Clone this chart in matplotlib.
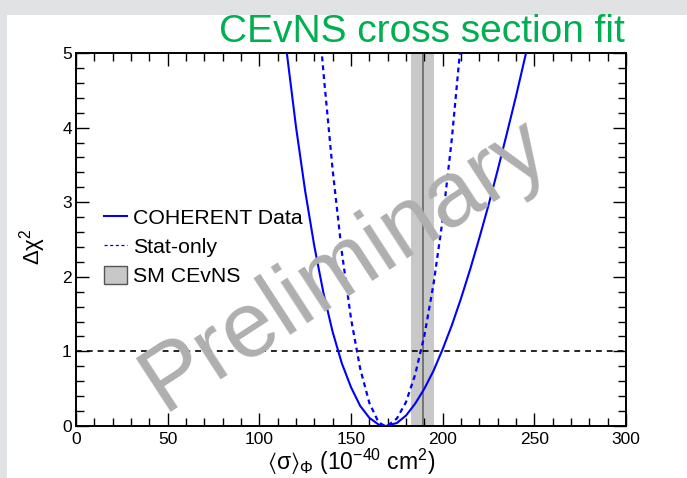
import matplotlib
matplotlib.use("Agg")
import matplotlib.pyplot as plt
from matplotlib.lines import Line2D
from matplotlib.patches import Patch, Rectangle
from matplotlib.ticker import MultipleLocator

plt.rcParams['font.family'] = ['Liberation Sans', 'DejaVu Sans']
plt.rcParams['mathtext.fontset'] = 'custom'
plt.rcParams['mathtext.rm'] = 'Liberation Sans'
plt.rcParams['mathtext.it'] = 'Liberation Sans:italic'
plt.rcParams['mathtext.sf'] = 'Liberation Sans'
plt.rcParams['mathtext.fallback'] = 'stixsans'

# Delta chi^2 profile of the full fit (stat + syst), flux-averaged cross section in 1e-40 cm^2
full_sigma = [115, 120, 125, 130, 135, 140, 145, 150, 155, 160, 165, 169,
              175, 180, 185, 190, 195, 200, 205, 210, 215, 220, 225, 230,
              235, 240, 245, 250]
full_dchi2 = [5.00, 4.01, 3.15, 2.41, 1.78, 1.26, 0.84, 0.52, 0.27, 0.11, 0.02, 0.00,
              0.04, 0.14, 0.30, 0.50, 0.74, 1.03, 1.35, 1.71, 2.10, 2.52, 2.96, 3.43,
              3.92, 4.42, 4.95, 5.49]

# Delta chi^2 profile with statistical uncertainties only
stat_sigma = [133, 135, 140, 145, 150, 155, 160, 165, 168.5, 170, 175, 180,
              185, 190, 195, 200, 205, 210]
stat_dchi2 = [5.31, 4.73, 3.43, 2.33, 1.44, 0.77, 0.31, 0.05, 0.00, 0.005, 0.10, 0.32,
              0.69, 1.21, 1.90, 2.77, 3.85, 5.16]

# Standard Model prediction
sm_center = 189.0
sm_halfwidth = 6.4

one_sigma_level = 1.0

legend_labels = ["COHERENT Data", "Stat-only", "SM CEvNS"]

fig = plt.figure(figsize=(6.87, 4.78), dpi=100)
fig.patch.set_facecolor('#e1e2e4')
fig.add_artist(Rectangle((7 / 687, 0), 1, (478 - 15) / 478, transform=fig.transFigure,
                         facecolor='white', edgecolor='none', zorder=0))

ax = fig.add_axes([76 / 687, 1 - 426 / 478, 550 / 687, 373 / 478])
ax.set_facecolor('none')

blue = '#0000ff'
ax.axvspan(sm_center - sm_halfwidth, sm_center + sm_halfwidth, color='#c8c8c8', lw=0, zorder=1)
ax.axvline(sm_center, color='#6e6e6e', lw=1.3, zorder=2)
ax.axhline(one_sigma_level, color='black', lw=1.2, dashes=(3.5, 3), zorder=3)
ax.plot(full_sigma, full_dchi2, color=blue, lw=1.5, zorder=4)
ax.plot(stat_sigma, stat_dchi2, color=blue, lw=1.6, dashes=(2.2, 1.8), zorder=4)

ax.set_xlim(0, 300)
ax.set_ylim(0, 5)
ax.xaxis.set_major_locator(MultipleLocator(50))
ax.xaxis.set_minor_locator(MultipleLocator(10))
ax.yaxis.set_major_locator(MultipleLocator(1))
ax.yaxis.set_minor_locator(MultipleLocator(0.2))
ax.tick_params(which='both', direction='in', top=True, right=True, width=1.0,
               labelsize=12.5, colors='black')
ax.tick_params(which='major', length=9.5)
ax.tick_params(which='minor', length=5.5)
ax.tick_params(axis='x', pad=4)
ax.tick_params(axis='y', pad=3)
for s in ax.spines.values():
    s.set_linewidth(1.4)

ax.set_xlabel('$\\langle$σ$\\rangle_{\\Phi}$ (10$^{-40}$ cm$^{2}$)', fontsize=16.5, labelpad=0)
ax.set_ylabel('Δχ$^{2}$', fontsize=16)
ax.yaxis.set_label_coords(-0.051, 0.48)

handles = [
    Line2D([], [], color=blue, lw=1.5),
    Line2D([], [], color=blue, lw=0.9, dashes=(2.5, 2)),
    Patch(facecolor='#c8c8c8', edgecolor='#555555', lw=1.0),
]
ax.legend(handles, legend_labels, loc='upper left', bbox_to_anchor=(0.051, 0.585),
          frameon=False, fontsize=15.3, handlelength=1.08, handleheight=0.95,
          handletextpad=0.28, labelspacing=0.4, borderpad=0, borderaxespad=0)

fig.text(345 / 687, 1 - 265 / 478, 'Preliminary', fontsize=67, color='#afafaf',
         rotation=33, rotation_mode='anchor', ha='center', va='center', zorder=0.5)

fig.text(625 / 687, 1 - 42 / 478, 'CEvNS cross section fit', fontsize=28,
         color='#00b050', ha='right', va='baseline')

fig.savefig('out.png', dpi=100)
